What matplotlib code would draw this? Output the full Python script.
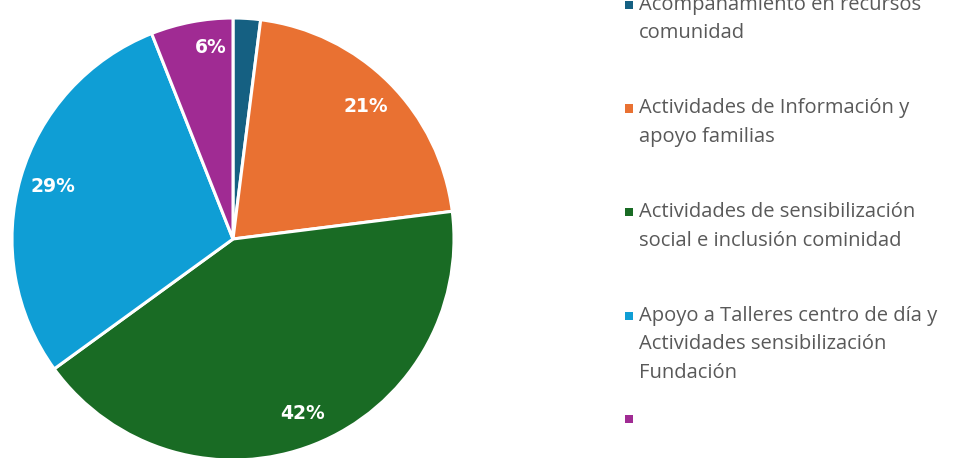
import numpy as np
import matplotlib
matplotlib.use("Agg")
import matplotlib.pyplot as plt
from matplotlib.patches import Rectangle

categories = [
    "Acompañamiento en recursos\ncomunidad",
    "Actividades de Información y\napoyo familias",
    "Actividades de sensibilización\nsocial e inclusión cominidad",
    "Apoyo a Talleres centro de día y\nActividades sensibilización\nFundación",
    "",
]
values = [2, 21, 42, 29, 6]
colors = ["#156082", "#E97132", "#196B24", "#0F9ED5", "#A02B93"]

W, H = 967, 458
fig = plt.figure(figsize=(W / 100, H / 100), dpi=100)
fig.patch.set_facecolor("white")

cx, cy, R = 233, 239, 221
ax = fig.add_axes([(cx - R) / W, (H - cy - R) / H, 2 * R / W, 2 * R / H])

def fmt(p):
    return f"{p:.0f}%" if p >= 3 else ""

wedges, texts, autotexts = ax.pie(
    values, colors=colors, startangle=90, counterclock=False, radius=1,
    autopct=fmt, pctdistance=0.85,
    wedgeprops=dict(edgecolor="white", linewidth=2.2),
    textprops=dict(color="white", fontsize=13.5, fontweight="bold",
                   family="DejaVu Sans"),
)
ax.set_xlim(-1, 1)
ax.set_ylim(-1, 1)
ax.set_aspect("equal")
ax.axis("off")
# Excel best-fit moves the small purple label towards the top
ang = np.deg2rad(96.5)
autotexts[4].set_position((0.87 * np.cos(ang), 0.87 * np.sin(ang)))
for w in wedges:
    w.set_clip_on(False)

# Legend (Excel style: marker aligned with first line)
lx_marker, lx_text = 625, 639
y0, slot, line_h = 5, 103.5, 28.5
for i, (lab, col) in enumerate(zip(categories, colors)):
    yc = y0 + i * slot
    fig.patches.append(Rectangle((lx_marker / W, (H - yc - 4) / H), 8 / W, 8 / H,
                                 transform=fig.transFigure, facecolor=col,
                                 edgecolor="none"))
    for j, line in enumerate(lab.split("\n")):
        if line:
            fig.text(lx_text / W, (H - yc - j * line_h) / H, line, ha="left",
                     va="center", fontsize=14.5, color="#595959",
                     family="Open Sans")

fig.savefig("out.png", dpi=100, facecolor="white")
